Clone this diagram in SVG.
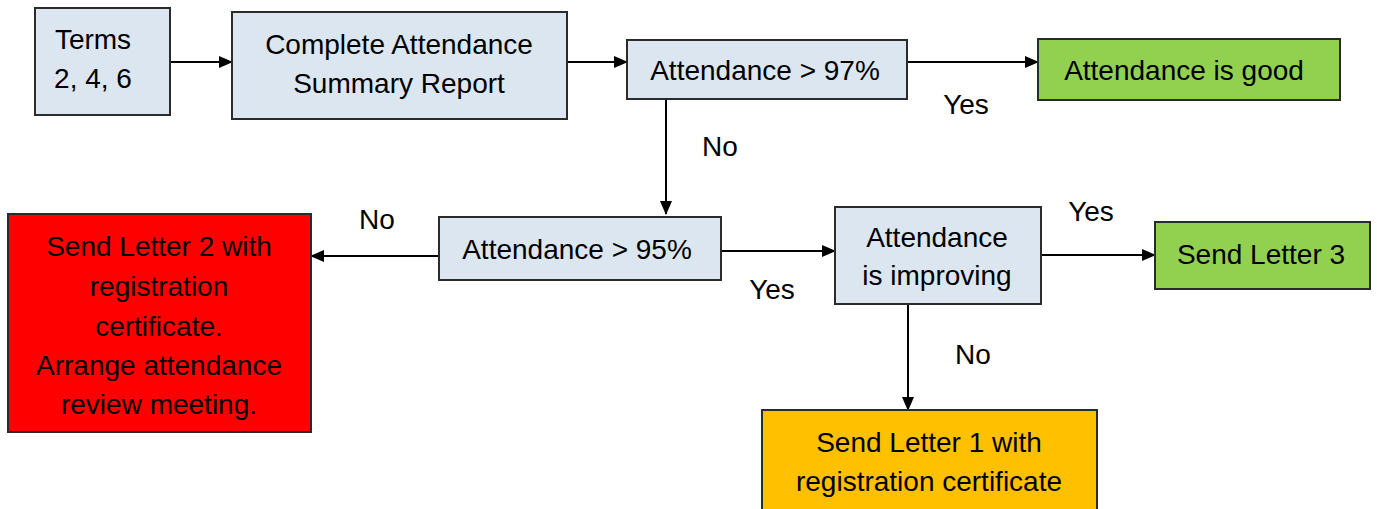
<svg xmlns="http://www.w3.org/2000/svg" width="1377" height="509" viewBox="0 0 1377 509">
<style>
  .box { stroke: #2b2b2b; stroke-width: 2; }
  .blue { fill: #DCE6F1; }
  .green { fill: #92D050; }
  .red { fill: #FF0000; }
  .orange { fill: #FFC000; }
  text { font-family: "Liberation Sans", Arial, sans-serif; font-size: 28px; fill: #000; text-anchor: middle; }
  .conn line { stroke: #000; stroke-width: 2; fill: none; marker-end: url(#arrow); }
</style>
<defs>
  <marker id="arrow" markerWidth="14" markerHeight="12" refX="13" refY="6" orient="auto" markerUnits="userSpaceOnUse">
    <path d="M0,0 L14,6 L0,12 z" fill="#000"/>
  </marker>
</defs>
<rect width="1377" height="509" fill="#fff"/>

<g id="connectors" class="conn">
  <line x1="170" y1="62" x2="232" y2="62"/>
  <line x1="567" y1="62" x2="627" y2="62"/>
  <line x1="907" y1="62" x2="1038" y2="62"/>
  <line x1="666" y1="99" x2="666" y2="214"/>
  <line x1="439" y1="256" x2="311" y2="256"/>
  <line x1="721" y1="251" x2="835" y2="251"/>
  <line x1="1041" y1="255" x2="1155" y2="255"/>
  <line x1="908" y1="304" x2="908" y2="410"/>
</g>

<g id="labels">
  <text x="966" y="114">Yes</text>
  <text x="720" y="156">No</text>
  <text x="377" y="229">No</text>
  <text x="772" y="299">Yes</text>
  <text x="1091" y="221">Yes</text>
  <text x="973" y="364">No</text>
</g>

<g id="terms">
  <rect class="box blue" x="35" y="8" width="135" height="107"/>
  <text x="93" y="49">Terms</text>
  <text x="93" y="88">2, 4, 6</text>
</g>
<g id="complete">
  <rect class="box blue" x="232" y="12" width="335" height="107"/>
  <text x="399" y="54">Complete Attendance</text>
  <text x="399" y="93">Summary Report</text>
</g>
<g id="att97">
  <rect class="box blue" x="627" y="40" width="280" height="59"/>
  <text x="765" y="80">Attendance &gt; 97%</text>
</g>
<g id="good">
  <rect class="box green" x="1038" y="39" width="302" height="61"/>
  <text x="1184" y="80">Attendance is good</text>
</g>
<g id="letter2">
  <rect class="box red" x="8" y="214" width="303" height="218"/>
  <text x="159" y="256">Send Letter 2 with</text>
  <text x="159" y="296">registration</text>
  <text x="159" y="336">certificate.</text>
  <text x="159" y="375">Arrange attendance</text>
  <text x="159" y="414">review meeting.</text>
</g>
<g id="att95">
  <rect class="box blue" x="439" y="217" width="282" height="63"/>
  <text x="577" y="259">Attendance &gt; 95%</text>
</g>
<g id="improving">
  <rect class="box blue" x="835" y="207" width="206" height="97"/>
  <text x="937" y="247">Attendance</text>
  <text x="937" y="285">is improving</text>
</g>
<g id="letter3">
  <rect class="box green" x="1155" y="222" width="215" height="67"/>
  <text x="1261" y="264">Send Letter 3</text>
</g>
<g id="letter1">
  <rect class="box orange" x="762" y="410" width="335" height="110"/>
  <text x="929" y="452">Send Letter 1 with</text>
  <text x="929" y="491">registration certificate</text>
</g>
</svg>
